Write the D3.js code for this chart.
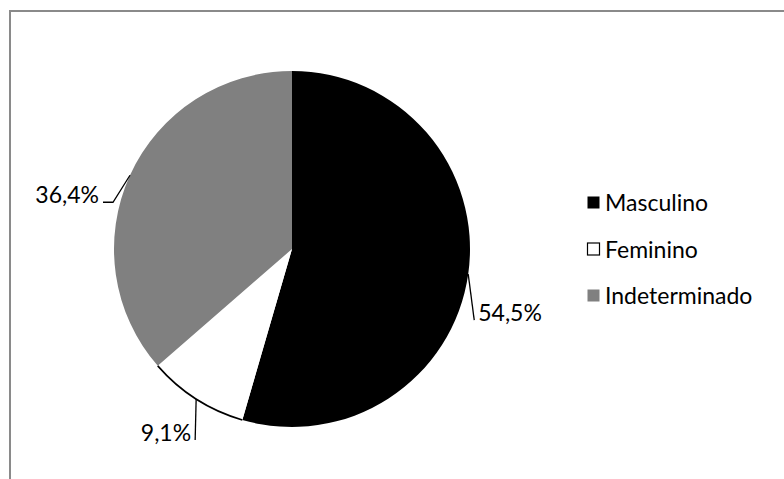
<!DOCTYPE html>
<html>
<head>
<meta charset="utf-8">
<script src="https://cdn.jsdelivr.net/npm/d3@7"></script>
<style>
  html, body { margin: 0; padding: 0; background: #fff; }
  svg { display: block; }
  text { font-family: Lato, "Open Sans", sans-serif; fill: #000; }
</style>
</head>
<body>
<svg id="chart" width="784" height="479"></svg>
<script>
// Sexo dos indivíduos (percentuais)
const categories = ["Masculino", "Feminino", "Indeterminado"];
const values = [54.5, 9.1, 36.4];
const valueLabels = ["54,5%", "9,1%", "36,4%"];
const colors = ["#000000", "#ffffff", "#808080"];

const svg = d3.select("#chart");
const W = 784, H = 479;

// chart frame (runs off the right and bottom edges)
svg.append("rect")
  .attr("x", 10).attr("y", 11)
  .attr("width", W).attr("height", H)
  .attr("fill", "#fff")
  .attr("stroke", "#8a8a8a")
  .attr("stroke-width", 2);

const cx = 292, cy = 249, R = 178;
const g = svg.append("g").attr("transform", `translate(${cx},${cy})`);

const pie = d3.pie().sort(null).value(d => d.v);
const arcs = pie(values.map((v, i) => ({ v, i })));
const arc = d3.arc().innerRadius(0).outerRadius(R);
const rim = d3.arc().innerRadius(R).outerRadius(R);

g.selectAll("path.slice")
  .data(arcs)
  .join("path")
  .attr("class", "slice")
  .attr("d", arc)
  .attr("fill", d => colors[d.data.i]);

// outline on the light slice's rim
g.selectAll("path.rim")
  .data(arcs.filter(d => colors[d.data.i] === "#ffffff"))
  .join("path")
  .attr("class", "rim")
  .attr("d", rim)
  .attr("fill", "none")
  .attr("stroke", "#000")
  .attr("stroke-width", 1.6);

// leader lines and data labels, placed relative to each slice's rim point
const labelLayout = [
  { dx: 6, dy: 46, hx: 0, anchor: "start", tx: 4 },   // right side, drops down
  { dx: -1, dy: 41, hx: 0, anchor: "end", tx: -4 },   // bottom, straight down
  { dx: -17, dy: 27, hx: -10, anchor: "end", tx: -4 } // left, bends left
];

const fontSize = 23;
arcs.forEach((a, k) => {
  const mid = (a.startAngle + a.endAngle) / 2;
  const px = R * Math.sin(mid), py = -R * Math.cos(mid);
  const L = labelLayout[k];
  const ex = px + L.dx, ey = py + L.dy;
  const pts = [[px, py], [ex, ey]];
  if (L.hx) pts.push([ex + L.hx, ey]);
  g.append("path")
    .attr("d", d3.line()(pts))
    .attr("fill", "none")
    .attr("stroke", "#000")
    .attr("stroke-width", 1.3);
  const end = pts[pts.length - 1];
  g.append("text")
    .attr("x", end[0] + L.tx)
    .attr("y", end[1] + 1)
    .attr("text-anchor", L.anchor)
    .attr("font-size", fontSize)
    .text(valueLabels[k]);
});

// legend
const legendY = d3.scalePoint().domain(categories).range([203, 296]);
const lg = svg.append("g");
categories.forEach((c, i) => {
  const y = legendY(c);
  lg.append("rect")
    .attr("x", 587.5).attr("y", y - 6.5)
    .attr("width", 12).attr("height", 12)
    .attr("fill", colors[i])
    .attr("stroke", colors[i] === "#ffffff" ? "#000" : "none")
    .attr("stroke-width", 1.2);
  lg.append("text")
    .attr("x", 605).attr("y", y)
    .attr("dy", "0.36em")
    .attr("font-size", fontSize)
    .text(c);
});
</script>
</body>
</html>
